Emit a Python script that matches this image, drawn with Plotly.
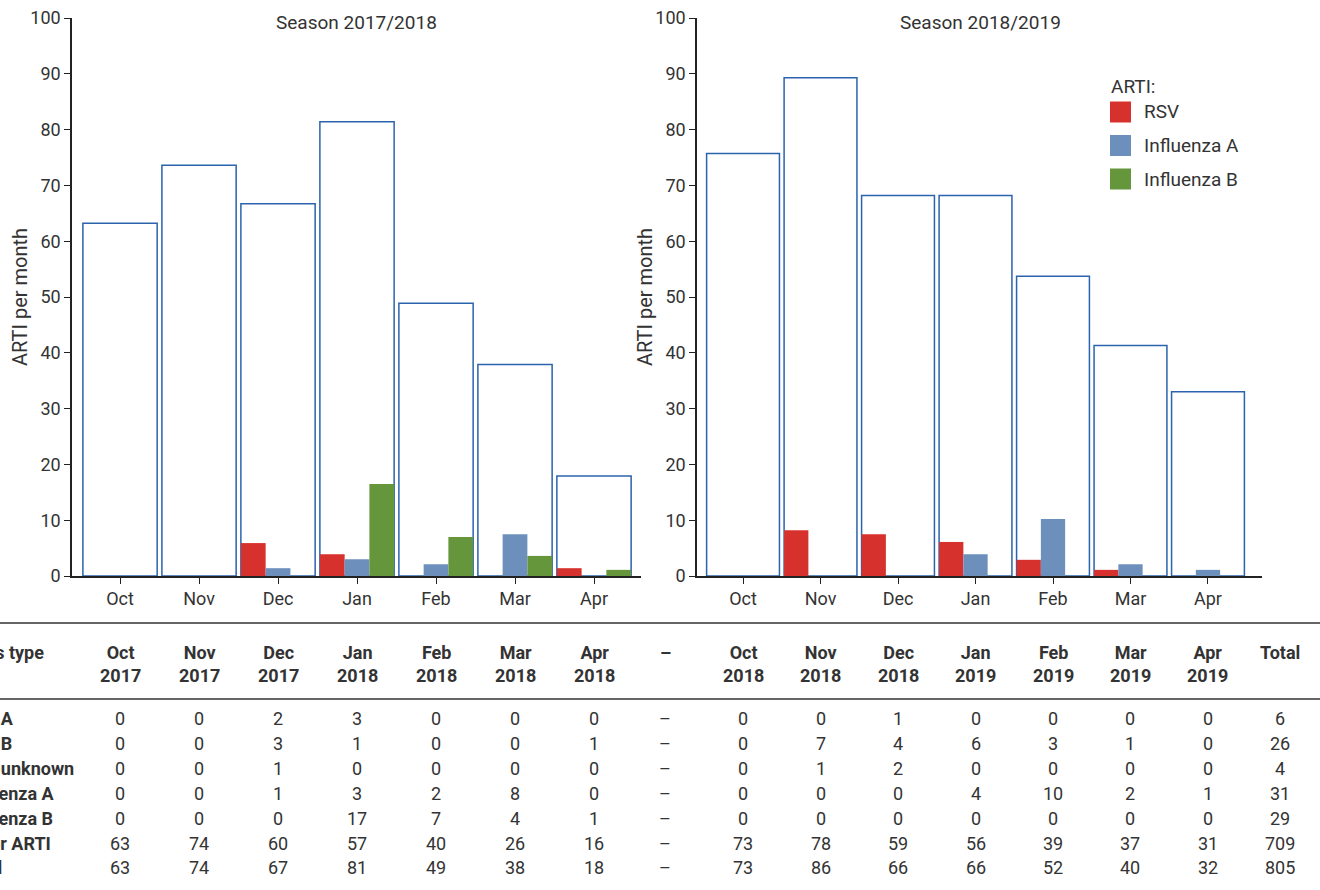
import plotly.graph_objects as go

W, H = 1320, 890

# ---------------- data ----------------
months = ["Oct", "Nov", "Dec", "Jan", "Feb", "Mar", "Apr"]
season_titles = ["Season 2017/2018", "Season 2018/2019"]
series_names = ["RSV", "Influenza A", "Influenza B"]
series_colors = ["#d7312d", "#6d8fbb", "#65963c"]

# ARTI per month (outlined bars)
arti_1718 = [63.2, 73.6, 66.7, 81.4, 48.9, 37.9, 17.9]
arti_1819 = [75.7, 89.3, 68.2, 68.2, 53.7, 41.3, 33.0]

# pathogen-specific ARTI per month
rsv_1718 = [0, 0, 5.9, 3.9, 0, 0, 1.4]
flua_1718 = [0, 0, 1.4, 3.0, 2.1, 7.5, 0]
flub_1718 = [0, 0, 0, 16.5, 7.0, 3.6, 1.1]

rsv_1819 = [0, 8.2, 7.5, 6.1, 2.9, 1.1, 0]
flua_1819 = [0, 0, 0, 3.9, 10.2, 2.1, 1.1]
flub_1819 = [0, 0, 0, 0, 0, 0, 0]

# table
table_header_label = "Virus type"
table_years_1 = ["2017", "2017", "2017", "2018", "2018", "2018", "2018"]
table_years_2 = ["2018", "2018", "2018", "2019", "2019", "2019", "2019"]
row_labels = ["RSV A", "RSV B", "RSV unknown", "Influenza A", "Influenza B", "Other ARTI", "Total"]
rows_1718 = [
    [0, 0, 2, 3, 0, 0, 0],
    [0, 0, 3, 1, 0, 0, 1],
    [0, 0, 1, 0, 0, 0, 0],
    [0, 0, 1, 3, 2, 8, 0],
    [0, 0, 0, 17, 7, 4, 1],
    [63, 74, 60, 57, 40, 26, 16],
    [63, 74, 67, 81, 49, 38, 18],
]
rows_1819 = [
    [0, 0, 1, 0, 0, 0, 0],
    [0, 7, 4, 6, 3, 1, 0],
    [0, 1, 2, 0, 0, 0, 0],
    [0, 0, 0, 4, 10, 2, 1],
    [0, 0, 0, 0, 0, 0, 0],
    [73, 78, 59, 56, 39, 37, 31],
    [73, 86, 66, 66, 52, 40, 32],
]
row_totals = [6, 26, 4, 31, 29, 709, 805]

# ---------------- helpers ----------------
def px(v):
    return v / W


def py(v):
    return 1 - v / H


FONT = "Roboto"
TXT = "#333333"
AX = "#222222"
OUTLINE = "#2b63ad"
BW = 0.94

fig = go.Figure()

seasons = [
    (arti_1718, [rsv_1718, flua_1718, flub_1718], "x", "y"),
    (arti_1819, [rsv_1819, flua_1819, flub_1819], "x2", "y2"),
]
xs = list(range(len(months)))
for arti, series, xa, ya in seasons:
    fig.add_trace(go.Bar(
        x=xs, y=arti, width=BW, xaxis=xa, yaxis=ya,
        marker=dict(color="rgba(255,255,255,0)", line=dict(color=OUTLINE, width=1.5)),
        showlegend=False, hoverinfo="y",
    ))
    sub = BW / len(series)
    for k, vals in enumerate(series):
        fig.add_trace(go.Bar(
            x=xs, y=vals, width=sub, offset=-BW / 2 + k * sub,
            xaxis=xa, yaxis=ya, name=series_names[k],
            marker=dict(color=series_colors[k], line=dict(width=0)),
            showlegend=False,
        ))

axis_common = dict(
    showline=True, linecolor=AX, linewidth=1.5, ticks="outside", ticklen=6,
    tickwidth=1.2, tickcolor=AX, showgrid=False, zeroline=False,
    tickfont=dict(family=FONT, size=18, color=TXT), automargin=False,
)
ydom = [py(576), py(18)]
fig.update_layout(
    width=W, height=H, margin=dict(l=0, r=0, t=0, b=0),
    paper_bgcolor="white", plot_bgcolor="white", barmode="overlay",
    template="none", showlegend=False,
    font=dict(family=FONT, color=TXT),
    xaxis=dict(domain=[px(72), px(641)], range=[-0.608, 6.595],
               tickvals=xs, ticktext=months, anchor="y", **axis_common),
    yaxis=dict(domain=ydom, range=[0, 100], tickvals=list(range(0, 101, 10)),
               anchor="x", **axis_common),
    xaxis2=dict(domain=[px(697), px(1262)], range=[-0.594, 6.697],
                tickvals=xs, ticktext=months, anchor="y2", **axis_common),
    yaxis2=dict(domain=ydom, range=[0, 100], tickvals=list(range(0, 101, 10)),
                anchor="x2", **axis_common),
)

ann = []
# subplot titles and y titles
for title, cx in zip(season_titles, [356, 980]):
    ann.append(dict(text=title, x=px(cx), y=py(22), xref="paper", yref="paper",
                    showarrow=False, xanchor="center", yanchor="middle",
                    font=dict(family=FONT, size=19, color=TXT)))
for tx in [20, 645]:
    ann.append(dict(text="ARTI per month", x=px(tx), y=py(297), xref="paper", yref="paper",
                    showarrow=False, textangle=-90, xanchor="center", yanchor="middle",
                    font=dict(family=FONT, size=20, color=TXT)))

# legend (manual, larger swatches)
LF = 19
ann.append(dict(text="ARTI:", x=px(1109), y=py(86), xref="paper", yref="paper",
                showarrow=False, xanchor="left", yanchor="middle",
                font=dict(family=FONT, size=LF, color=TXT)))
shapes = []
legend_y = [112, 145.5, 179]
for k, name in enumerate(series_names):
    cy = legend_y[k]
    shapes.append(dict(type="rect", xref="paper", yref="paper",
                       x0=px(1110), x1=px(1131), y0=py(cy + 10.5), y1=py(cy - 10.5),
                       fillcolor=series_colors[k], line=dict(width=0)))
    ann.append(dict(text=name, x=px(1142), y=py(cy), xref="paper", yref="paper",
                    showarrow=False, xanchor="left", yanchor="middle",
                    font=dict(family=FONT, size=LF, color=TXT)))

# table rules
for yy in [623, 699]:
    shapes.append(dict(type="line", xref="paper", yref="paper", x0=0, x1=1,
                       y0=py(yy), y1=py(yy), line=dict(color="#333333", width=1.5)))

TF = 18
HF = 18
cell_font = dict(family=FONT, size=TF, color=TXT)
hdr_font = dict(family=FONT, size=HF, color=TXT)
hdr_y = 664
row_y = [718, 743, 768, 793, 818, 843, 867]
label_x = px(-40)

ann.append(dict(text="<b>" + table_header_label + "</b>", x=label_x, y=py(652),
                xref="paper", yref="paper", showarrow=False, xanchor="left",
                yanchor="middle", font=hdr_font))
for xa, years in [("x", table_years_1), ("x2", table_years_2)]:
    for i, m in enumerate(months):
        ann.append(dict(text=f"<b>{m}<br>{years[i]}</b>", x=i, xref=xa, y=py(hdr_y), yref="paper",
                        showarrow=False, xanchor="center", yanchor="middle", font=hdr_font))
ann.append(dict(text="<b>–</b>", x=px(665), y=py(652), xref="paper", yref="paper",
                showarrow=False, xanchor="center", yanchor="middle", font=hdr_font))
ann.append(dict(text="<b>Total</b>", x=px(1280), y=py(652), xref="paper", yref="paper",
                showarrow=False, xanchor="center", yanchor="middle", font=hdr_font))

for r, lab in enumerate(row_labels):
    yy = py(row_y[r])
    ann.append(dict(text="<b>" + lab + "</b>", x=label_x, y=yy, xref="paper", yref="paper",
                    showarrow=False, xanchor="left", yanchor="middle", font=hdr_font))
    for xa, rows in [("x", rows_1718), ("x2", rows_1819)]:
        for i, v in enumerate(rows[r]):
            ann.append(dict(text=str(v), x=i, xref=xa, y=yy, yref="paper",
                            showarrow=False, xanchor="center", yanchor="middle",
                            font=cell_font))
    ann.append(dict(text="–", x=px(665), y=yy, xref="paper", yref="paper",
                    showarrow=False, xanchor="center", yanchor="middle", font=cell_font))
    ann.append(dict(text=str(row_totals[r]), x=px(1280), y=yy, xref="paper", yref="paper",
                    showarrow=False, xanchor="center", yanchor="middle", font=cell_font))

fig.update_layout(annotations=ann, shapes=shapes)
fig.write_html(
    "out.html",
    config={"displayModeBar": False},
    post_script="document.body.style.margin='0';document.body.style.overflow='hidden';",
)
